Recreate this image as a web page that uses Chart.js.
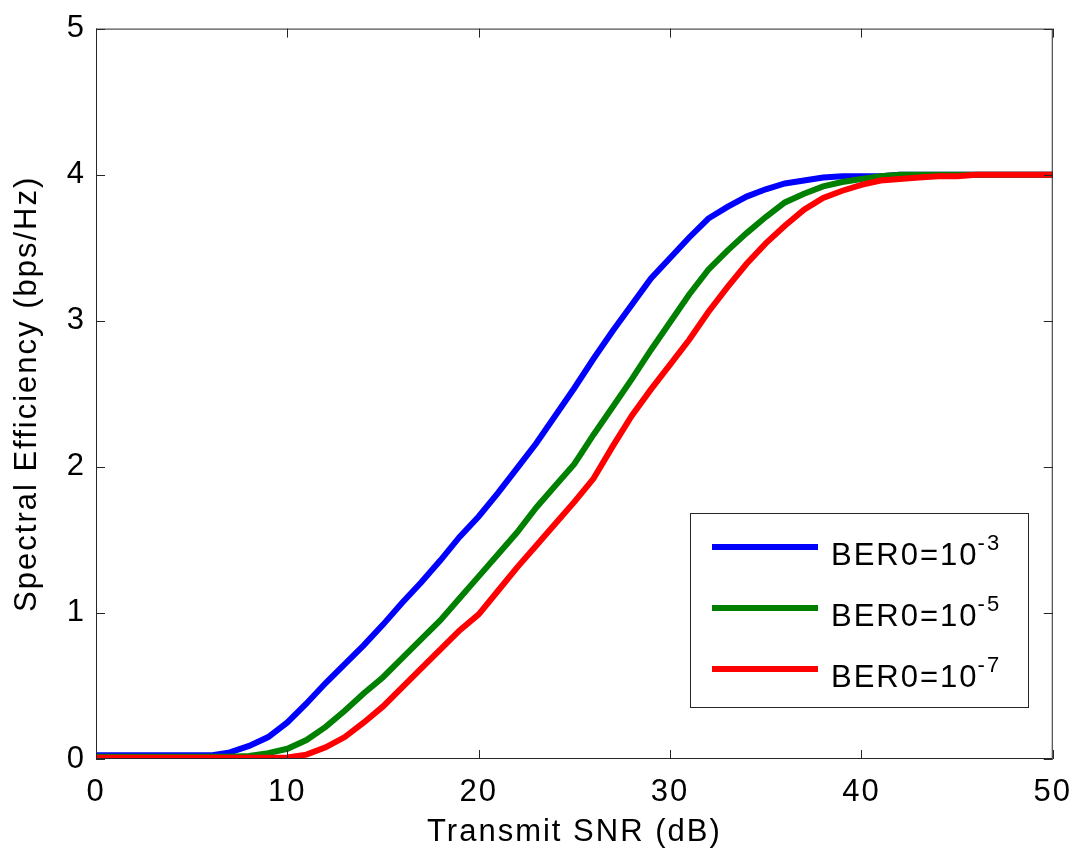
<!DOCTYPE html>
<html>
<head>
<meta charset="utf-8">
<script src="https://cdn.jsdelivr.net/npm/chart.js@4/dist/chart.umd.min.js"></script>
<style>
  html, body { margin: 0; padding: 0; background: #fff; }
  #wrap { width: 1085px; height: 852px; }
</style>
</head>
<body>
<div id="wrap"><canvas id="seChart" width="1085" height="852"></canvas></div>
<script>
// SNR in dB (asse x)
const snr = [0, 1, 2, 3, 4, 5, 6, 7, 8, 9, 10, 11, 12, 13, 14, 15, 16, 17, 18, 19, 20,
  21, 22, 23, 24, 25, 26, 27, 28, 29, 30, 31, 32, 33, 34, 35, 36, 37, 38, 39, 40,
  41, 42, 43, 44, 45, 46, 47, 48, 49, 50];

// Efficienza spettrale (bps/Hz)
const ber3 = [0.025, 0.025, 0.025, 0.025, 0.025, 0.025, 0.025, 0.045, 0.09, 0.15, 0.25,
  0.38, 0.52, 0.65, 0.78, 0.92, 1.07, 1.21, 1.36, 1.52, 1.66,
  1.82, 1.99, 2.16, 2.35, 2.54, 2.74, 2.93, 3.11, 3.29, 3.43,
  3.57, 3.70, 3.78, 3.85, 3.90, 3.94, 3.96, 3.98, 3.99, 3.99,
  3.99, 4.0, 4.0, 4.0, 4.0, 4.0, 4.0, 4.0, 4.0, 4.0];
const ber5 = [0.015, 0.015, 0.015, 0.015, 0.015, 0.015, 0.015, 0.015, 0.02, 0.04, 0.07,
  0.13, 0.22, 0.33, 0.45, 0.56, 0.69, 0.82, 0.95, 1.10, 1.25,
  1.40, 1.55, 1.72, 1.87, 2.02, 2.22, 2.41, 2.60, 2.80, 2.99,
  3.18, 3.35, 3.48, 3.60, 3.71, 3.81, 3.87, 3.92, 3.95, 3.97,
  3.99, 4.0, 4.0, 4.0, 4.0, 4.0, 4.0, 4.0, 4.0, 4.0];
const ber7 = [0.008, 0.008, 0.008, 0.008, 0.008, 0.008, 0.008, 0.008, 0.008, 0.008, 0.01,
  0.03, 0.08, 0.15, 0.25, 0.36, 0.49, 0.62, 0.75, 0.88, 0.99,
  1.15, 1.31, 1.46, 1.61, 1.76, 1.92, 2.14, 2.35, 2.53, 2.70,
  2.87, 3.06, 3.23, 3.39, 3.53, 3.65, 3.76, 3.84, 3.89, 3.93,
  3.96, 3.97, 3.98, 3.99, 3.99, 4.0, 4.0, 4.0, 4.0, 4.0];

// Etichette legenda (base + esponente)
const legendBase = 'BER0=10';
const legendExp = ['-3', '-5', '-7'];
const seriesColors = ['#0000ff', '#008000', '#ff0000'];

const xTicks = [0, 10, 20, 30, 40, 50];
const yTicks = [0, 1, 2, 3, 4, 5];

const FONT = "'Liberation Sans', Arial, sans-serif";

function toPoints(values) {
  return snr.map((x, i) => ({ x: x, y: values[i] }));
}

// Spaziatura lettere piu' larga, come nell'esportazione MATLAB
const wideText = {
  id: 'wideText',
  beforeDraw(chart) {
    chart.ctx.letterSpacing = '2px';
  }
};

// Cornice, tacche interne e legenda in stile MATLAB
const matlabFrame = {
  id: 'matlabFrame',
  afterDraw(chart) {
    const ctx = chart.ctx;
    const a = chart.chartArea;
    const xs = chart.scales.x;
    const ys = chart.scales.y;
    const tick = 9;
    ctx.save();
    ctx.strokeStyle = '#262626';
    ctx.lineWidth = 1;
    ctx.strokeRect(a.left + 0.5, a.top + 0.5, a.right - a.left - 1, a.bottom - a.top - 1);
    ctx.beginPath();
    xTicks.forEach(v => {
      const px = Math.round(xs.getPixelForValue(v)) + 0.5;
      ctx.moveTo(px, a.bottom); ctx.lineTo(px, a.bottom - tick);
      ctx.moveTo(px, a.top); ctx.lineTo(px, a.top + tick);
    });
    yTicks.forEach(v => {
      const py = Math.round(ys.getPixelForValue(v)) + 0.5;
      ctx.moveTo(a.left, py); ctx.lineTo(a.left + tick, py);
      ctx.moveTo(a.right, py); ctx.lineTo(a.right - tick, py);
    });
    ctx.stroke();

    // legenda
    const box = { x: 690, y: 513, w: 338, h: 194 };
    ctx.fillStyle = '#fff';
    ctx.fillRect(box.x, box.y, box.w, box.h);
    ctx.strokeStyle = '#262626';
    ctx.strokeRect(box.x + 0.5, box.y + 0.5, box.w, box.h);
    chart.data.datasets.forEach((ds, i) => {
      const ly = 547 + i * 61;
      ctx.strokeStyle = ds.borderColor;
      ctx.lineWidth = 6;
      ctx.beginPath();
      ctx.moveTo(712, ly); ctx.lineTo(818, ly);
      ctx.stroke();
      ctx.fillStyle = '#000';
      ctx.textBaseline = 'alphabetic';
      ctx.textAlign = 'left';
      ctx.letterSpacing = '2px';
      ctx.font = '31px ' + FONT;
      ctx.fillText(legendBase, 831, ly + 18);
      const w = ctx.measureText(legendBase).width;
      ctx.font = '22px ' + FONT;
      ctx.fillText(legendExp[i], 831 + w - 1, ly + 3);
    });
    ctx.restore();
  }
};

const ctx = document.getElementById('seChart').getContext('2d');
const seChart = new Chart(ctx, {
  type: 'line',
  data: {
    datasets: [
      { label: legendBase + legendExp[0], data: toPoints(ber3), borderColor: seriesColors[0], order: 2 },
      { label: legendBase + legendExp[1], data: toPoints(ber5), borderColor: seriesColors[1], order: 1 },
      { label: legendBase + legendExp[2], data: toPoints(ber7), borderColor: seriesColors[2], order: 0 }
    ]
  },
  options: {
    responsive: false,
    animation: false,
    events: [],
    elements: {
      line: { borderWidth: 6, tension: 0, borderCapStyle: 'butt', borderJoinStyle: 'miter' },
      point: { radius: 0 }
    },
    layout: { padding: { top: 27, right: 27, left: 0, bottom: 0 } },
    plugins: {
      legend: { display: false },
      tooltip: { enabled: false }
    },
    scales: {
      x: {
        type: 'linear',
        min: 0, max: 50,
        afterFit(scale) { scale.height = 93; },
        afterBuildTicks(scale) { scale.ticks = xTicks.map(v => ({ value: v })); },
        grid: { display: false, drawTicks: false },
        border: { display: false },
        ticks: { color: '#000', padding: 15, font: { family: FONT, size: 31 } },
        title: { display: true, text: 'Transmit SNR (dB)', color: '#000',
                 padding: { top: 0, bottom: 1 }, font: { family: FONT, size: 31 } }
      },
      y: {
        min: 0, max: 5,
        afterFit(scale) { scale.width = 96; },
        afterBuildTicks(scale) { scale.ticks = yTicks.map(v => ({ value: v })); },
        grid: { display: false, drawTicks: false },
        border: { display: false },
        ticks: { color: '#000', padding: 10, font: { family: FONT, size: 31 } },
        title: { display: true, text: 'Spectral Efficiency (bps/Hz)', color: '#000',
                 padding: { top: 9, bottom: 0 }, font: { family: FONT, size: 31 } }
      }
    }
  },
  plugins: [wideText, matlabFrame]
});
</script>
</body>
</html>
